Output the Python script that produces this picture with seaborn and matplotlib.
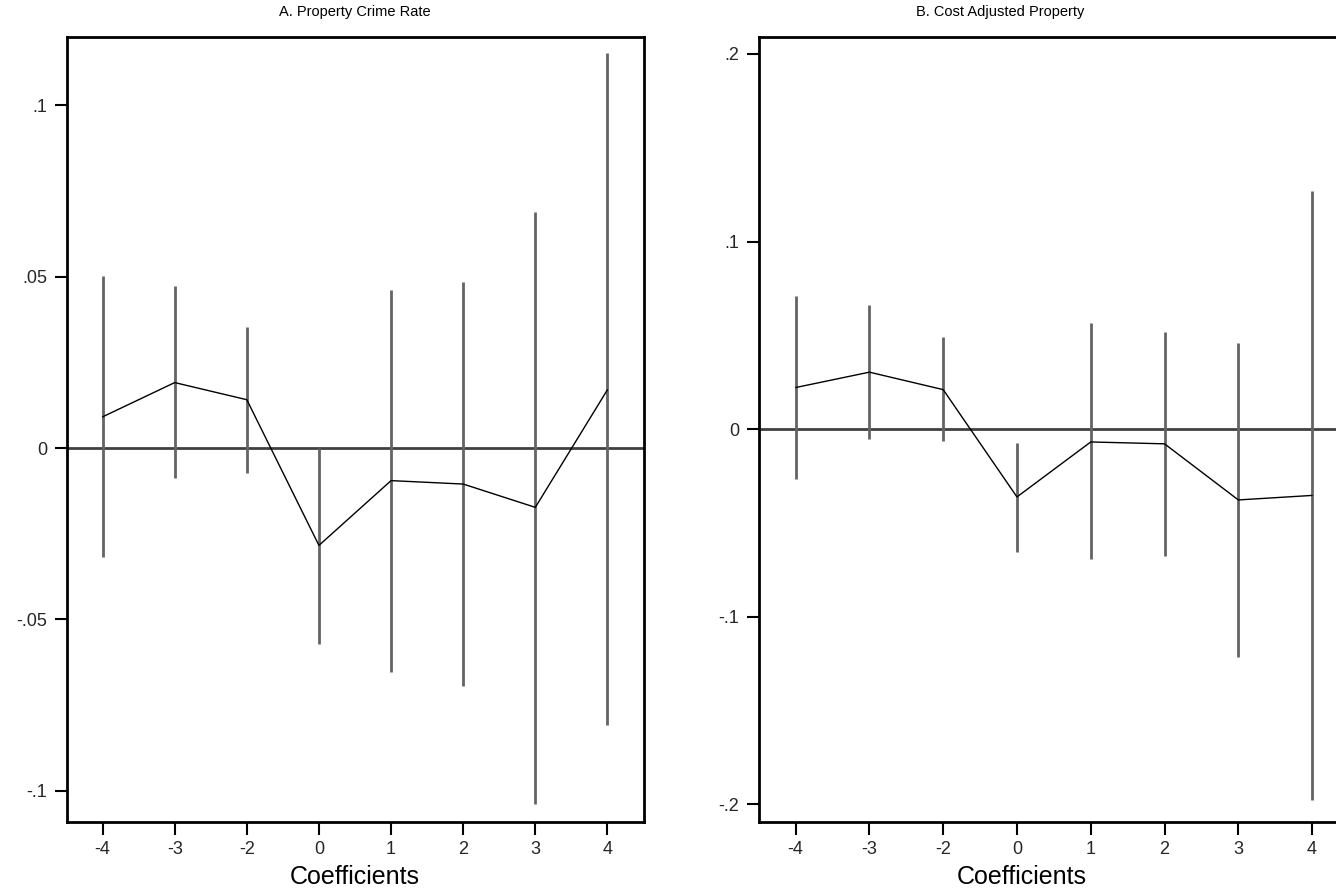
import matplotlib
matplotlib.use("Agg")
import matplotlib.pyplot as plt
import seaborn as sns
import pandas as pd
import numpy as np

sns.set_theme(style="white")
plt.rcParams['font.family'] = ['Liberation Sans', 'DejaVu Sans']

# ---- data ----
periods = ['-4', '-3', '-2', '0', '1', '2', '3', '4']

a_coef = [0.0091, 0.0191, 0.0141, -0.0284, -0.0095, -0.0105, -0.0173, 0.0170]
a_lo = [-0.0319, -0.0088, -0.0073, -0.0572, -0.0652, -0.0694, -0.1039, -0.0809]
a_hi = [0.0501, 0.0472, 0.0352, 0.0000, 0.0462, 0.0484, 0.0690, 0.1153]

b_coef = [0.0222, 0.0304, 0.0211, -0.0361, -0.0068, -0.0078, -0.0377, -0.0353]
b_lo = [-0.0268, -0.0050, -0.0062, -0.0654, -0.0694, -0.0675, -0.1213, -0.1977]
b_hi = [0.0710, 0.0661, 0.0489, -0.0076, 0.0565, 0.0518, 0.0457, 0.1268]

titles = ['A. Property Crime Rate', 'B. Cost Adjusted Property']
a_ticks = [-0.1, -0.05, 0, 0.05, 0.1]
a_ticklabels = ['-.1', '-.05', '0', '.05', '.1']
b_ticks = [-0.2, -0.1, 0, 0.1, 0.2]
b_ticklabels = ['-.2', '-.1', '0', '.1', '.2']

W, H = 1336, 890
fig = plt.figure(figsize=(W / 100, H / 100), dpi=100)
fig.patch.set_facecolor('white')

def px_axes(l, t, r, b):
    return fig.add_axes([l / W, 1 - b / H, (r - l) / W, (b - t) / H])

axA = px_axes(66.5, 36.7, 643.5, 821.7)
axB = px_axes(758.7, 36.7, 1349.0, 821.7)

panels = [
    (axA, a_coef, a_lo, a_hi, (-0.109, 0.120), a_ticks, a_ticklabels, titles[0], 355, 355),
    (axB, b_coef, b_lo, b_hi, (-0.2092, 0.2092), b_ticks, b_ticklabels, titles[1], 1000, 1022),
]

for ax, coef, lo, hi, ylim, ticks, tlabels, title, title_x, xlab_x in panels:
    df = pd.DataFrame({'period': periods, 'coef': coef, 'lo': lo, 'hi': hi})
    df['pos'] = np.arange(1, len(periods) + 1)
    ax.axhline(0, color='#404040', lw=2.0, zorder=1)
    ax.vlines(df['pos'], df['lo'], df['hi'], color='#646464', lw=2.0, zorder=2)
    sns.lineplot(data=df, x='pos', y='coef', ax=ax, color='black', lw=1.0,
                 zorder=3, sort=False)
    ax.set_xlim(0.5, len(periods) + 0.5)
    ax.set_ylim(*ylim)
    ax.set_xticks(df['pos'])
    ax.set_xticklabels(periods)
    ax.set_yticks(ticks)
    ax.set_yticklabels(tlabels)
    ax.tick_params(axis='both', which='major', direction='out', length=9,
                   width=1.5, color='black', labelsize=13, pad=5,
                   bottom=True, left=True)
    for s in ax.spines.values():
        s.set_visible(True)
        s.set_color('black')
        s.set_linewidth(2.0)
    ax.set_ylabel('')
    ax.set_xlabel('Coefficients', fontsize=18, color='black')
    l, b, w, h = ax.get_position().bounds
    ax.xaxis.set_label_coords((xlab_x / W - l) / w, -0.055)
    ax.grid(False)
    fig.text(title_x / W, 1 - 12 / H, title, fontsize=10.5,
             ha='center', va='center', color='black')

fig.savefig('out.png', dpi=100, facecolor='white')
